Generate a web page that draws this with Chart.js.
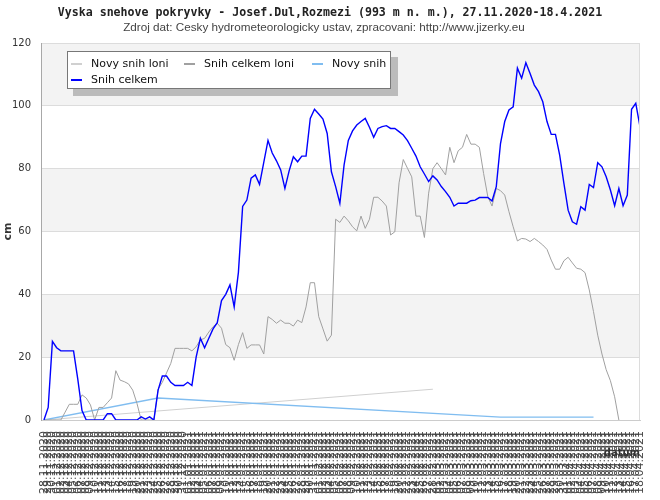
<!DOCTYPE html>
<html>
<head>
<meta charset="utf-8">
<script src="https://cdn.jsdelivr.net/npm/chart.js@4.4.1/dist/chart.umd.min.js"></script>
<style>
  html, body { margin: 0; padding: 0; background: #fff; }
</style>
</head>
<body>
<canvas id="chart" width="660" height="500"></canvas>
<script>
"use strict";

// DATA
const dates = [
  "28.11.2020", "29.11.2020", "30.11.2020",
  "01.12.2020", "02.12.2020", "03.12.2020", "04.12.2020", "05.12.2020", "06.12.2020", "07.12.2020", "08.12.2020", "09.12.2020", "10.12.2020",
  "11.12.2020", "12.12.2020", "13.12.2020", "14.12.2020", "15.12.2020", "16.12.2020", "17.12.2020", "18.12.2020", "19.12.2020", "20.12.2020",
  "21.12.2020", "22.12.2020", "23.12.2020", "24.12.2020", "25.12.2020", "26.12.2020", "27.12.2020", "28.12.2020", "29.12.2020", "30.12.2020", "31.12.2020",
  "01.01.2021", "02.01.2021", "03.01.2021", "04.01.2021", "05.01.2021", "06.01.2021", "07.01.2021", "08.01.2021", "09.01.2021", "10.01.2021",
  "11.01.2021", "12.01.2021", "13.01.2021", "14.01.2021", "15.01.2021", "16.01.2021", "17.01.2021", "18.01.2021", "19.01.2021", "20.01.2021",
  "21.01.2021", "22.01.2021", "23.01.2021", "24.01.2021", "25.01.2021", "26.01.2021", "27.01.2021", "28.01.2021", "29.01.2021", "30.01.2021", "31.01.2021",
  "01.02.2021", "02.02.2021", "03.02.2021", "04.02.2021", "05.02.2021", "06.02.2021", "07.02.2021", "08.02.2021", "09.02.2021", "10.02.2021",
  "11.02.2021", "12.02.2021", "13.02.2021", "14.02.2021", "15.02.2021", "16.02.2021", "17.02.2021", "18.02.2021", "19.02.2021", "20.02.2021",
  "21.02.2021", "22.02.2021", "23.02.2021", "24.02.2021", "25.02.2021", "26.02.2021", "27.02.2021", "28.02.2021",
  "01.03.2021", "02.03.2021", "03.03.2021", "04.03.2021", "05.03.2021", "06.03.2021", "07.03.2021", "08.03.2021", "09.03.2021", "10.03.2021",
  "11.03.2021", "12.03.2021", "13.03.2021", "14.03.2021", "15.03.2021", "16.03.2021", "17.03.2021", "18.03.2021", "19.03.2021", "20.03.2021",
  "21.03.2021", "22.03.2021", "23.03.2021", "24.03.2021", "25.03.2021", "26.03.2021", "27.03.2021", "28.03.2021", "29.03.2021", "30.03.2021", "31.03.2021",
  "01.04.2021", "02.04.2021", "03.04.2021", "04.04.2021", "05.04.2021", "06.04.2021", "07.04.2021", "08.04.2021", "09.04.2021", "10.04.2021",
  "11.04.2021", "12.04.2021", "13.04.2021", "14.04.2021", "15.04.2021", "16.04.2021", "17.04.2021", "18.04.2021"
];

// Snih celkem (cm), one value per day
const snihCelkem = [
  0, 4, 25, 23, 22, 22, 22, 22, 13, 3,
  0, 0, 0, 0, 0, 2, 2, 0, 0, 0,
  0, 0, 0, 1, 0.3, 1, 0, 9.5, 14, 14,
  12, 11, 11, 11, 12, 11, 20, 26, 23, 26,
  29, 31, 38, 40, 43, 36, 47, 68, 70, 77,
  78, 75, 82, 89, 85, 82.5, 79.6, 73.7, 79.3, 83.8,
  82.2, 84, 84, 96, 98.9, 97.4, 95.8, 91.2, 79, 74.3,
  69, 81.2, 89, 92, 93.9, 95, 96, 93.2, 90, 92.8,
  93.4, 93.7, 92.8, 92.8, 91.8, 90.7, 88.9, 86.5, 84, 80.6,
  78.3, 75.9, 77.7, 76.4, 74.3, 72.7, 70.9, 68.1, 69, 69,
  69, 69.8, 70, 70.8, 70.8, 70.8, 69.7, 74.3, 88, 95,
  98.7, 99.7, 112, 108.8, 113.7, 110.3, 106.6, 104.5, 101.3, 95,
  90.9, 90.9, 84.3, 75.3, 66.8, 63.1, 62.3, 67.9, 66.8, 75,
  74, 81.9, 80.6, 77.4, 73.2, 68.2, 73.7, 68.2, 71.6, 98.9,
  100.8, 93.4
];

// Snih celkem loni (cm)
const snihCelkemLoni = [
  0, 0, 0, 0, 0, 2.5, 5, 5, 5, 8,
  7, 4.8, 0, 4, 4, 5.5, 7, 15.7, 12.7, 12.2,
  11.5, 9.5, 5.3, 0, 0, 0, 0, 9.8, 12, 15,
  18, 22.8, 22.8, 22.8, 22.8, 22, 23.3, 25.5, 26, 28,
  29.7, 30.8, 29.2, 24, 23, 19, 24, 27.8, 22.8, 23.9,
  23.9, 23.9, 21, 32.9, 32, 30.8, 31.8, 30.8, 30.8, 29.9,
  31.8, 31, 36, 43.7, 43.7, 32.9, 29, 25.1, 27, 63.9,
  62.9, 64.9, 63.4, 61.5, 60.2, 64.9, 61, 63.9, 70.9, 70.9,
  69.7, 68.1, 58.9, 59.9, 75.5, 82.9, 80.1, 77.4, 64.9, 64.9,
  58.1, 72.2, 80, 81.9, 80, 78, 86.8, 81.9, 85.7, 86.8,
  90.9, 87.8, 87.8, 86.8, 78.5, 71.1, 68.1, 73.7, 73, 71.6,
  66.3, 61.5, 57, 57.8, 57.6, 56.8, 57.8, 56.8, 55.7, 54.3,
  50.9, 48, 48, 50.7, 51.8, 50, 48.3, 48, 46.9, 41.4,
  34.5, 27, 21, 16, 12.5, 7.4, 0, null, null, null,
  null, null
];

// Novy snih / Novy snih loni: only a few days carry a value
const novySnihDates = ["28.11.2020", "25.12.2020", "16.03.2021", "07.04.2021"];
const novySnihValues = [0, 7, 0.9, 0.9];
const novySnihLoniDates = ["28.11.2020", "28.02.2021"];
const novySnihLoniValues = [0, 9.8];

const yTicks = [0, 20, 40, 60, 80, 100, 120];
const shadedBands = [[20, 40], [60, 80], [100, 120]];

const titleText = "Vyska snehove pokryvky - Josef.Dul,Rozmezi (993 m n. m.), 27.11.2020-18.4.2021";
const subtitleText = "Zdroj dat: Cesky hydrometeorologicky ustav, zpracovani: http://www.jizerky.eu";

// helpers to turn arrays into points
const toPoints = (values) => values.map((v, i) => ({ x: i, y: v }));
const sparsePoints = (days, values) =>
  days.map((d, i) => ({ x: dates.indexOf(d), y: values[i] }));

//////////////////////////////
// PLUGINS

// grey bands behind the grid, right frame line
const bandPlugin = {
  id: "bands",
  beforeDraw(chart) {
    const { ctx, chartArea, scales } = chart;
    ctx.save();
    ctx.fillStyle = "#f3f3f3";
    shadedBands.forEach(([from, to]) => {
      const top = scales.y.getPixelForValue(to);
      const bottom = scales.y.getPixelForValue(from);
      ctx.fillRect(chartArea.left, top, chartArea.right - chartArea.left, bottom - top);
    });
    ctx.restore();
  },
  afterDatasetsDraw(chart) {
    const { ctx, chartArea } = chart;
    ctx.save();
    ctx.strokeStyle = "#dcdcdc";
    ctx.lineWidth = 1;
    ctx.beginPath();
    ctx.moveTo(Math.round(chartArea.right) - 0.5, chartArea.top);
    ctx.lineTo(Math.round(chartArea.right) - 0.5, chartArea.bottom);
    ctx.stroke();
    ctx.restore();
  },
};

// title lines
const titlePlugin = {
  id: "titles",
  afterDraw(chart) {
    const ctx = chart.ctx;
    ctx.save();
    ctx.textAlign = "center";
    ctx.textBaseline = "middle";
    ctx.fillStyle = "#222";
    ctx.font = "bold 11.6px 'DejaVu Sans Mono'";
    ctx.fillText(titleText, 330, 13);
    ctx.fillStyle = "#444";
    ctx.font = "11.7px 'Liberation Sans'";
    ctx.fillText(subtitleText, 324, 28);
    ctx.restore();
  },
};

// boxed legend with a drop shadow, plus the "datum" axis caption
const legendSlots = [
  [71, 64],
  [184, 64],
  [312, 64],
  [71, 80],
];
const legendOrder = [3, 1, 2, 0];

const boxLegendPlugin = {
  id: "boxLegend",
  afterDraw(chart) {
    const ctx = chart.ctx;
    ctx.save();
    ctx.fillStyle = "#bbbbbb";
    ctx.fillRect(73, 57, 325, 39);
    ctx.fillStyle = "#ffffff";
    ctx.fillRect(67, 51, 324, 37);
    ctx.strokeStyle = "#777777";
    ctx.lineWidth = 1;
    ctx.strokeRect(67.5, 51.5, 323, 37);

    ctx.font = "11px 'DejaVu Sans'";
    ctx.textBaseline = "middle";
    ctx.textAlign = "left";
    legendOrder.forEach((dsIndex, slot) => {
      const ds = chart.data.datasets[dsIndex];
      const [x, y] = legendSlots[slot];
      ctx.strokeStyle = ds.borderColor;
      ctx.lineWidth = 2;
      ctx.beginPath();
      ctx.moveTo(x, y);
      ctx.lineTo(x + 11, y);
      ctx.stroke();
      ctx.fillStyle = "#111";
      ctx.fillText(ds.label, x + 20, y);
    });

    ctx.font = "bold 10px 'DejaVu Sans'";
    ctx.fillStyle = "#333";
    ctx.textAlign = "right";
    ctx.fillText("datum", chart.chartArea.right, 453);
    ctx.restore();
  },
};

//////////////////////////////
// CHART

const ctx = document.getElementById("chart").getContext("2d");
const myChart = new Chart(ctx, {
  type: "line",
  data: {
    datasets: [
      {
        label: "Snih celkem",
        data: toPoints(snihCelkem),
        borderColor: "#0000ff",
        borderWidth: 1.4,
      },
      {
        label: "Snih celkem loni",
        data: toPoints(snihCelkemLoni),
        borderColor: "#a0a0a0",
        borderWidth: 1,
      },
      {
        label: "Novy snih",
        data: sparsePoints(novySnihDates, novySnihValues),
        borderColor: "#80bdf0",
        borderWidth: 1.3,
      },
      {
        label: "Novy snih loni",
        data: sparsePoints(novySnihLoniDates, novySnihLoniValues),
        borderColor: "#d0d0d0",
        borderWidth: 1,
      },
    ],
  },
  options: {
    responsive: false,
    animation: false,
    devicePixelRatio: 1,
    spanGaps: false,
    elements: {
      point: { radius: 0 },
      line: { tension: 0, fill: false },
    },
    layout: { padding: { top: 43, right: 20, bottom: 0, left: 0 } },
    plugins: {
      legend: { display: false },
      tooltip: { enabled: false },
      title: { display: false },
    },
    scales: {
      x: {
        type: "linear",
        min: -0.7,
        max: dates.length - 1,
        grid: { display: false, drawTicks: false },
        border: { display: true, color: "#cccccc" },
        afterBuildTicks: (axis) => {
          axis.ticks = dates.map((d, i) => ({ value: i }));
        },
        afterFit: (axis) => {
          axis.height = 80;
          axis.paddingLeft = 0;
          axis.paddingRight = 0;
        },
        ticks: {
          autoSkip: false,
          minRotation: 90,
          maxRotation: 90,
          padding: 11,
          color: "#444",
          font: { family: "'DejaVu Sans'", size: 11 },
          callback: (value) => dates[value] ?? "",
        },
      },
      y: {
        min: yTicks[0],
        max: yTicks[yTicks.length - 1],
        afterBuildTicks: (axis) => {
          axis.ticks = yTicks.map((v) => ({ value: v }));
        },
        afterFit: (axis) => {
          axis.width = 41;
          axis.paddingTop = 0;
          axis.paddingBottom = 0;
        },
        grid: { color: "#dcdcdc", drawTicks: false },
        border: { display: true, color: "#a8a8a8" },
        ticks: {
          padding: 10,
          color: "#333",
          font: { family: "'DejaVu Sans'", size: 10 },
        },
        title: {
          display: true,
          text: "cm",
          color: "#333",
          font: { family: "'DejaVu Sans'", size: 11, weight: "bold" },
          padding: { top: 2, bottom: 0 },
        },
      },
    },
  },
  plugins: [bandPlugin, titlePlugin, boxLegendPlugin],
});
</script>
</body>
</html>
